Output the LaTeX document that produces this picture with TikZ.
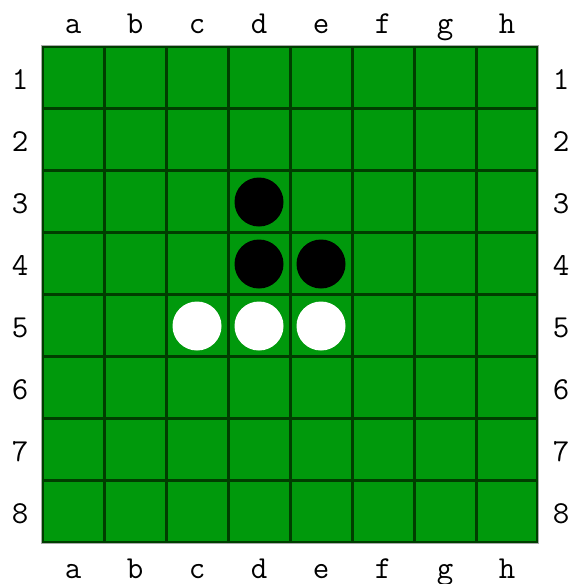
\documentclass[tikz,border=0pt]{standalone}
\usepackage{tikz}
\usetikzlibrary{calc}
\definecolor{felt}{RGB}{0, 153, 12}
\definecolor{seam}{RGB}{0, 62, 0}
\definecolor{rim}{RGB}{170, 170, 170}

\begin{document}
\begin{tikzpicture}[
    x=1pt, y=-1pt,
    lbl/.style={font=\fontsize{32}{32}\selectfont\ttfamily, inner sep=0pt, anchor=base},
    disk/.style={circle, minimum size=49pt, inner sep=0pt, fill=#1},
    seamline/.style={draw=seam, line width=3pt}
  ]
  \useasboundingbox (0,0) rectangle (571,584);
  % board
  \fill[felt] (42,46) rectangle (538,543);
  \foreach \k in {1,...,7} {
    \draw[seamline] ($(42,46)+(62*\k,0)$) -- ($(42,543)+(62*\k,0)$);
    \draw[seamline] ($(42,46)+(0,62*\k)$) -- ($(538,46)+(0,62*\k)$);
  }
  \draw[seam, line width=1.5pt] (43,47) rectangle (537,542);
  \draw[rim, line width=1.5pt] (41.5,45.5) rectangle (538.5,543.5);
  % coordinates
  \foreach \c [count=\i from 0] in {a,b,c,d,e,f,g,h} {
    \node[lbl] (top-\c) at (73+62*\i, 33) {\c};
    \node[lbl] (bot-\c) at (73+62*\i, 578) {\c};
  }
  \foreach \r [count=\i from 0] in {1,...,8} {
    \node[lbl] (left-\r) at (20, 89+62*\i) {\r};
    \node[lbl] (right-\r) at (561, 89+62*\i) {\r};
  }
  % disks
  \node[disk=black] (d3) at (259,202) {};
  \node[disk=black] (d4) at (259,264) {};
  \node[disk=black] (e4) at (321,264) {};
  \node[disk=white] (c5) at (197,326) {};
  \node[disk=white] (d5) at (259,326) {};
  \node[disk=white] (e5) at (321,326) {};
\end{tikzpicture}
\end{document}
